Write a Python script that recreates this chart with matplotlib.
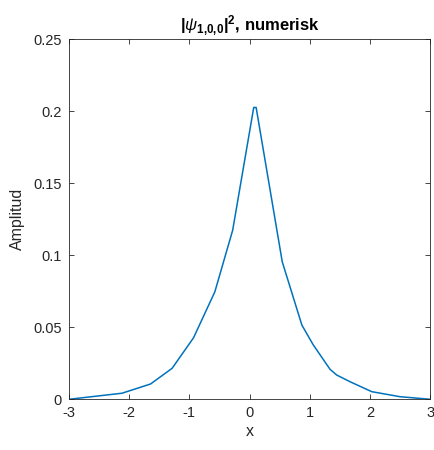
import matplotlib
matplotlib.use('Agg')
import matplotlib.pyplot as plt

# Numerisk sannolikhetstäthet |psi_100|^2 längs x
x = [-3.0, -2.12, -1.645, -1.286, -0.93, -0.576, -0.28, 0.07, 0.11,
     0.544, 0.87, 1.06, 1.338, 1.45, 1.67, 2.03, 2.50, 3.0]
amp = [0.0, 0.0042, 0.0106, 0.0215, 0.0427, 0.0746, 0.1173, 0.2025, 0.2025,
       0.0954, 0.0515, 0.0377, 0.0208, 0.0168, 0.0122, 0.0053, 0.0018, 0.0]

xticks = [-3, -2, -1, 0, 1, 2, 3]
yticks = [0, 0.05, 0.1, 0.15, 0.2, 0.25]
ytick_labels = ['0', '0.05', '0.1', '0.15', '0.2', '0.25']

plt.rcParams['font.family'] = ['Liberation Sans', 'DejaVu Sans']
plt.rcParams['mathtext.fontset'] = 'custom'
plt.rcParams['mathtext.rm'] = 'Liberation Sans:bold'
plt.rcParams['mathtext.it'] = 'Liberation Sans:italic'
plt.rcParams['mathtext.bf'] = 'Liberation Sans:bold'

fig = plt.figure(figsize=(4.35, 4.5), dpi=100, facecolor='white')
ax = fig.add_axes([0.1586, 0.1127, 0.83, 0.8006])

ax.plot(x, amp, color='#0072BD', lw=1.1, solid_joinstyle='round')

ax.set_xlim(-3, 3)
ax.set_ylim(0, 0.25)
ax.set_xticks(xticks)
ax.set_xticklabels([str(t) for t in xticks])
ax.set_yticks(yticks)
ax.set_yticklabels(ytick_labels)

for side in ax.spines.values():
    side.set_color('#262626')
    side.set_linewidth(0.6)
ax.tick_params(direction='in', length=3.5, width=0.6, colors='#262626',
               labelsize=10.5, top=True, right=True, pad=5)

ax.set_xlabel('x', fontsize=11.5, color='#262626', labelpad=3)
ax.set_ylabel('Amplitud', fontsize=11.5, color='#262626', labelpad=6)
ax.set_title(r'$|\psi_{\mathbf{1{,}0{,}0}}|^{\mathbf{2}}$, numerisk', fontsize=12,
             fontweight='bold', color='black', pad=6)

plt.savefig('out.png', dpi=100, facecolor='white')
plt.close()
